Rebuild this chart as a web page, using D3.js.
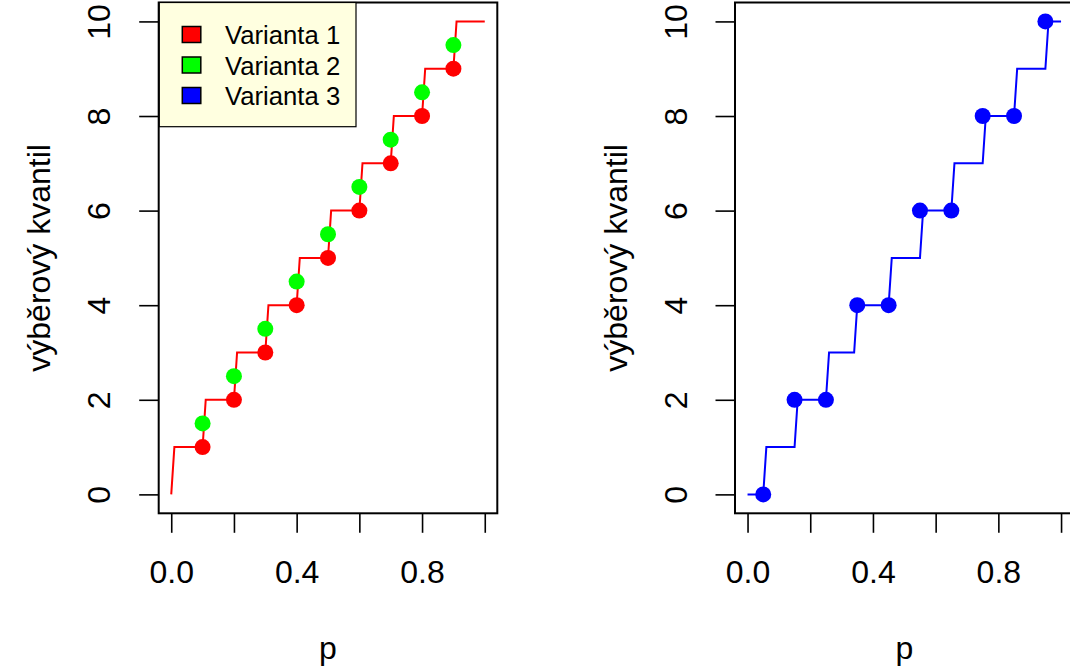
<!DOCTYPE html>
<html>
<head>
<meta charset="utf-8">
<script src="https://cdn.jsdelivr.net/npm/d3@7"></script>
<style>
  body { margin: 0; background: #fff; }
  text { font-family: "Liberation Sans", Arial, sans-serif; fill: #000; }
</style>
</head>
<body>
<svg id="chart" width="1070" height="671"></svg>
<script>
// step line of the left panel (p, quantile) - Varianta 1
var stepP1 = [0, 0.01, 0.1, 0.11, 0.2, 0.21, 0.3, 0.31, 0.4, 0.41, 0.5, 0.51, 0.6, 0.61, 0.7, 0.71, 0.8, 0.81, 0.9, 0.91, 1];
var stepQ1 = [0, 1, 1, 2, 2, 3, 3, 4, 4, 5, 5, 6, 6, 7, 7, 8, 8, 9, 9, 10, 10];

// points of the left panel
var pointP = [0.1, 0.2, 0.3, 0.4, 0.5, 0.6, 0.7, 0.8, 0.9];
var varianta1 = [1, 2, 3, 4, 5, 6, 7, 8, 9];
var varianta2 = [1.5, 2.5, 3.5, 4.5, 5.5, 6.5, 7.5, 8.5, 9.5];

// step line of the right panel - Varianta 3
var stepP3 = [0, 0.05, 0.06, 0.15, 0.16, 0.25, 0.26, 0.34, 0.35, 0.45, 0.46, 0.55, 0.56, 0.65, 0.66, 0.75, 0.76, 0.85, 0.86, 0.95, 0.96, 1];
var stepQ3 = [0, 0, 1, 1, 2, 2, 3, 3, 4, 4, 5, 5, 6, 6, 7, 7, 8, 8, 9, 9, 10, 10];

// points of the right panel
var pointP3 = [0.05, 0.15, 0.25, 0.35, 0.45, 0.55, 0.65, 0.75, 0.85, 0.95];
var varianta3 = [0, 2, 2, 4, 4, 6, 6, 8, 8, 10];

var xTicks = [0, 0.2, 0.4, 0.6, 0.8, 1];
var xLabels = [0, 0.4, 0.8];
var yTicks = [0, 2, 4, 6, 8, 10];
var legendNames = ["Varianta 1", "Varianta 2", "Varianta 3"];
var legendColors = ["#ff0000", "#00ff00", "#0000ff"];

var svg = d3.select("#chart");

var top_ = 2.5, bottom = 513.3;
var y = d3.scaleLinear().domain([-0.4, 10.4]).range([bottom, top_]);

function drawPanel(left) {
  var x = d3.scaleLinear().domain([-0.04, 1.04]).range([left, left + 338.6]);
  var g = svg.append("g");

  //y axis with rotated labels like R does
  var ya = g.append("g")
    .attr("transform", "translate(" + left + ",0)")
    .call(d3.axisLeft(y).tickValues(yTicks).tickSize(19.5).tickSizeOuter(0).tickFormat(d3.format("d")));
  ya.select(".domain").remove();
  ya.selectAll("line").attr("stroke", "#000").attr("stroke-width", 1.6);
  ya.selectAll("text")
    .attr("x", null).attr("dy", null)
    .attr("text-anchor", "middle")
    .attr("transform", "translate(-48.5,0) rotate(-90)")
    .style("font-size", "32px")
    .attr("font-family", null);

  //x axis, only every other label is shown
  var xa = g.append("g")
    .attr("transform", "translate(0," + bottom + ")")
    .call(d3.axisBottom(x).tickValues(xTicks).tickSize(19.5).tickSizeOuter(0)
      .tickFormat(function(d) { return xLabels.indexOf(d) >= 0 ? d3.format(".1f")(d) : ""; }));
  xa.select(".domain").remove();
  xa.selectAll("line").attr("stroke", "#000").attr("stroke-width", 1.6);
  xa.selectAll("text")
    .attr("y", 70).attr("dy", null)
    .style("font-size", "32px")
    .attr("font-family", null);

  //box
  g.append("rect")
    .attr("x", left).attr("y", top_)
    .attr("width", 338.6).attr("height", bottom - top_)
    .attr("fill", "none").attr("stroke", "#000").attr("stroke-width", 2);

  //axis titles
  g.append("text")
    .attr("transform", "translate(" + (left - 108.5) + "," + ((top_ + bottom) / 2) + ") rotate(-90)")
    .attr("text-anchor", "middle")
    .style("font-size", "32px")
    .text("výběrový kvantil");
  g.append("text")
    .attr("x", left + 169.3).attr("y", 659)
    .attr("text-anchor", "middle")
    .style("font-size", "32px")
    .text("p");

  return x;
}

var line = d3.line();

// left panel
var x1 = drawPanel(158.7);
svg.append("path")
  .attr("d", line(stepP1.map(function(p, i) { return [x1(p), y(stepQ1[i])]; })))
  .attr("fill", "none").attr("stroke", "#ff0000").attr("stroke-width", 2);
svg.selectAll(".v1").data(pointP).enter().append("circle")
  .attr("cx", function(d) { return x1(d); })
  .attr("cy", function(d, i) { return y(varianta1[i]); })
  .attr("r", 8).attr("fill", "#ff0000");
svg.selectAll(".v2").data(pointP).enter().append("circle")
  .attr("cx", function(d) { return x1(d); })
  .attr("cy", function(d, i) { return y(varianta2[i]); })
  .attr("r", 8).attr("fill", "#00ff00");

// legend
var lg = svg.append("g");
lg.append("rect")
  .attr("x", 159.3).attr("y", top_)
  .attr("width", 196.7).attr("height", 126.7 - top_)
  .attr("fill", "#ffffe0").attr("stroke", "#000").attr("stroke-width", 1.2);
legendNames.forEach(function(name, i) {
  var by = 44 + i * 30.5;
  lg.append("rect")
    .attr("x", 182.3).attr("y", by - 17.5)
    .attr("width", 18.5).attr("height", 16)
    .attr("fill", legendColors[i]).attr("stroke", "#000").attr("stroke-width", 1.5);
  lg.append("text")
    .attr("x", 225).attr("y", by)
    .style("font-size", "25.7px")
    .text(name);
});

// right panel
var x3 = drawPanel(735);
svg.append("path")
  .attr("d", line(stepP3.map(function(p, i) { return [x3(p), y(stepQ3[i])]; })))
  .attr("fill", "none").attr("stroke", "#0000ff").attr("stroke-width", 2);
svg.selectAll(".v3").data(pointP3).enter().append("circle")
  .attr("cx", function(d) { return x3(d); })
  .attr("cy", function(d, i) { return y(varianta3[i]); })
  .attr("r", 8).attr("fill", "#0000ff");
</script>
</body>
</html>
